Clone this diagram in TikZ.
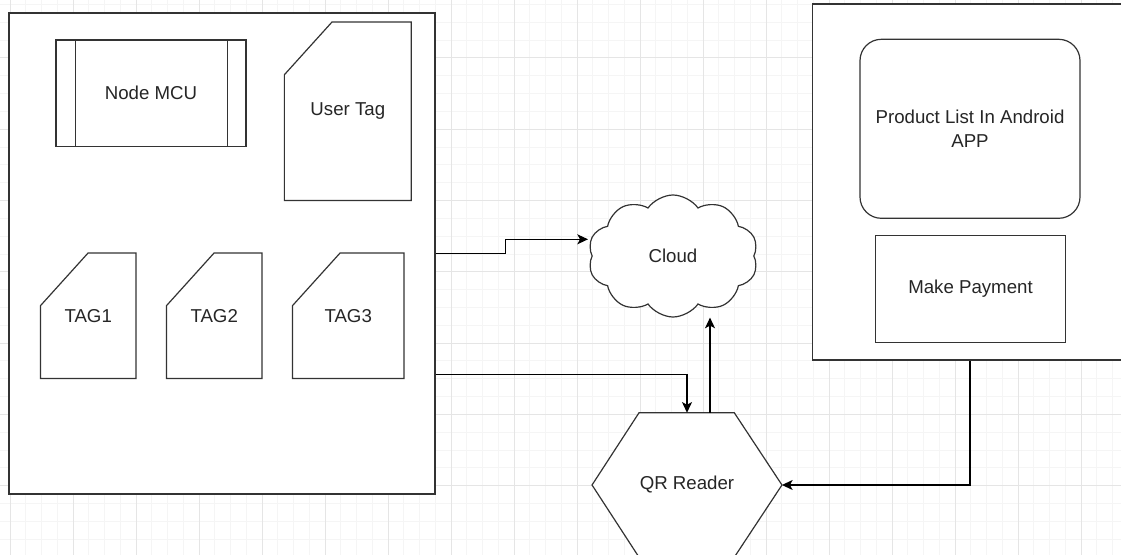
\documentclass[tikz,border=0pt]{standalone}
\usepackage{fontspec}
\setmainfont{Liberation Sans}
\usetikzlibrary{arrows.meta,shapes.symbols,backgrounds}

\begin{document}
\begin{tikzpicture}[x=0.75pt,y=-0.75pt,font=\fontsize{14}{18}\selectfont]
\tikzstyle{box}=[rectangle,draw=black!80,line width=0.9pt,fill=white,inner sep=0pt,text=black!85]
\tikzstyle{card}=[rectangle,inner sep=0pt,text=black!85]
\tikzstyle{outline}=[draw=black!80,line width=0.9pt]
\tikzstyle{link}=[draw=black,line width=0.9pt,-{Stealth[length=8pt,width=7.5pt,inset=2pt]}]
\tikzstyle{gridminor}=[draw=black!4,line width=0.5pt]
\tikzstyle{gridmajor}=[draw=black!10,line width=0.6pt]
\def \px {0.75pt}
\useasboundingbox (0,0) rectangle (1121,555);
\clip (0,0) rectangle (1121,555);
% grid paper
\begin{pgfonlayer}{background}
\clip (0,0) rectangle (1121,555);
\foreach \i in {0,...,72} \draw[gridminor] (-5.75+15.75*\i,0) -- (-5.75+15.75*\i,555);
\foreach \j in {0,...,32} \draw[gridminor] (0,-13.6+17.83*\j) -- (1121,-13.6+17.83*\j);
\foreach \i in {0,...,17} \draw[gridmajor] (10+63*\i,0) -- (10+63*\i,555);
\foreach \j in {1,...,8} \draw[gridmajor] (0,-13.6+71.33*\j) -- (1121,-13.6+71.33*\j);
\end{pgfonlayer}
% reader board
\node[box,minimum width=426*\px,minimum height=481*\px] (board) at (222,253.5) {};
\node[box,minimum width=190*\px,minimum height=106.7*\px] (mcu) at (151,93.3) {Node MCU};
\draw[outline] ([xshift=20*\px]mcu.north west) -- ([xshift=20*\px]mcu.south west);
\draw[outline] ([xshift=-19.3*\px]mcu.north east) -- ([xshift=-19.3*\px]mcu.south east);
\node[card,minimum width=126.3*\px,minimum height=178*\px] (user) at (347.8,111.3) {User Tag};
\node[card,minimum width=95*\px,minimum height=125*\px] (tag1) at (88.2,315.8) {TAG1};
\node[card,minimum width=95*\px,minimum height=125*\px] (tag2) at (214.2,315.8) {TAG2};
\node[card,minimum width=111*\px,minimum height=125*\px] (tag3) at (348.2,315.8) {TAG3};
\foreach \n in {user,tag1,tag2,tag3}
  \draw[outline] ([yshift=-52.7*\px]\n.north west) -- ([xshift=47.6*\px]\n.north west) -- (\n.north east) -- (\n.south east) -- (\n.south west) -- cycle;
% cloud and reader
\node[cloud,cloud puffs=10,cloud puff arc=110,aspect=1.4,draw=black!80,line width=0.9pt,fill=white,text=black!85,minimum width=170*\px,minimum height=122*\px,inner sep=0pt] (cloud) at (673,256) {Cloud};
\node[card,minimum width=189.4*\px,minimum height=144*\px] (qr) at (687,485) {QR Reader};
\begin{pgfonlayer}{background}
\draw[outline,fill=white] (qr.west) -- ([xshift=47*\px]qr.north west) -- ([xshift=-47.7*\px]qr.north east) -- (qr.east) -- ([xshift=-47.7*\px]qr.south east) -- ([xshift=47*\px]qr.south west) -- cycle;
\end{pgfonlayer}
% android side
\node[box,minimum width=314.6*\px,minimum height=356*\px] (phone) at (970,182) {};
\node[box,rounded corners=16pt,minimum width=220*\px,minimum height=179*\px,align=center] (plist) at (970,128.8) {Product List In Android\\APP};
\node[box,minimum width=189.6*\px,minimum height=107*\px] (pay) at (970.5,288.8) {Make Payment};
% connections
\coordinate (cloudin) at (588,239.3);
\coordinate (qrup) at ([xshift=23*\px]qr.north);
\draw[link] (board.east) -- ++(70,0) |- (cloudin);
\draw[link] ([yshift=-120.8*\px]board.east) -| (qr.north);
\draw[link] (qrup) -- (qrup |- cloud.south);
\draw[link] (phone.south) |- (qr.east);
\end{tikzpicture}
\end{document}
